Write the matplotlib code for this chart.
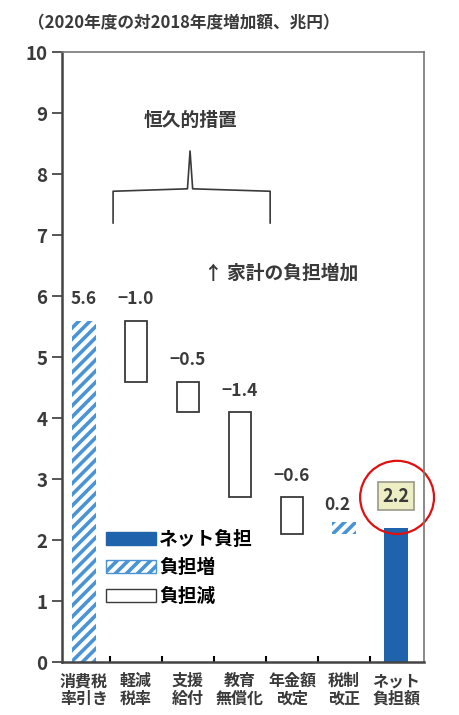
import matplotlib
matplotlib.use('Agg')
import matplotlib.pyplot as plt
from matplotlib.patches import Patch, Ellipse
import numpy as np

plt.rcParams['font.family'] = ['Noto Sans CJK JP', 'DejaVu Sans']
plt.rcParams['font.weight'] = 'bold'
plt.rcParams['hatch.linewidth'] = 2.6

# ── data (trillion yen, FY2020 vs FY2018) ───────────────────
categories = ['消費税\n率引き', '軽減\n税率', '支援\n給付', '教育\n無償化',
              '年金額\n改定', '税制\n改正', 'ネット\n負担額']
steps = [5.6, -1.0, -0.5, -1.4, -0.6, 0.2]
step_labels = ['5.6', '−1.0', '−0.5', '−1.4', '−0.6', '0.2']
net = 2.2
net_label = '2.2'

BLUE = '#1f63ad'
HATCH = '#4a94d6'
INK = '#3a3a3a'

fig = plt.figure(figsize=(4.6, 7.15), dpi=100)
ax = fig.add_axes([0.135, 0.074, 0.787, 0.853])

x = np.arange(len(categories))
w = 0.47

# waterfall steps
tops = np.cumsum(steps)
bottoms = tops - np.array(steps)
for i, (s, lab) in enumerate(zip(steps, step_labels)):
    lo = min(bottoms[i], tops[i])
    hi = max(bottoms[i], tops[i])
    if s > 0:
        ax.bar(x[i], abs(s), w, bottom=lo, color='white', edgecolor=HATCH,
               hatch='///', linewidth=0)
    else:
        ax.bar(x[i], abs(s), w * 0.88, bottom=lo, color='white',
               edgecolor=INK, linewidth=1.3)
    if i == len(steps) - 1:
        ax.text(x[i] - 0.12, hi + 0.12, lab, ha='center', va='bottom',
                fontsize=12.5, color=INK)
    else:
        ax.text(x[i], hi + 0.2, lab, ha='center', va='bottom',
                fontsize=12.5, color=INK)

# net burden bar
ax.bar(x[-1], net, w, color=BLUE, edgecolor=BLUE, linewidth=0)
ax.text(x[-1], net + 0.52, net_label, ha='center', va='center',
        fontsize=13, color=INK,
        bbox=dict(boxstyle='square,pad=0.25', facecolor='#eeeec4',
                  edgecolor='#999988', linewidth=1.2))
ax.add_patch(Ellipse((x[-1] + 0.02, net + 0.5), 1.42, 1.2, fill=False,
                     edgecolor='#e01010', linewidth=1.6, clip_on=False))

# bracket for permanent measures
bx0, bxm, bx1 = 0.56, 2.04, 3.58
ax.plot([bx0, bx0, bxm - 0.05, bxm, bxm + 0.05, bx1, bx1],
        [7.2, 7.72, 7.76, 8.38, 7.76, 7.72, 7.2],
        color=INK, linewidth=1.2)
ax.text(bxm, 8.88, '恒久的措置', ha='center', va='center', fontsize=13.5,
        color=INK)
ax.text(2.3, 6.38, '↑ 家計の負担増加', ha='left', va='center', fontsize=13.5,
        color=INK)

# legend
handles = [Patch(facecolor=BLUE, edgecolor=BLUE, label='ネット負担'),
           Patch(facecolor='white', edgecolor=HATCH, hatch='///',
                 label='負担増'),
           Patch(facecolor='white', edgecolor=INK, label='負担減')]
ax.legend(handles=handles, loc='lower left', bbox_to_anchor=(0.1, 0.08),
          frameon=False, fontsize=13.5, handlelength=2.7, handleheight=0.7,
          handletextpad=0.15, labelspacing=0.5, borderaxespad=0)

# axes styling
ax.set_xlim(-0.42, 6.54)
ax.set_ylim(0, 10)
ax.set_yticks(range(0, 11))
ax.tick_params(axis='y', direction='out', length=7, width=1.2,
               labelsize=13.5, colors=INK)
ax.set_xticks(x)
ax.set_xticklabels(categories, fontsize=11.5, color=INK, linespacing=1.1)
ax.tick_params(axis='x', length=0, pad=8)
ax.set_xticks(x[:-1] + 0.5, minor=True)
ax.tick_params(axis='x', which='minor', direction='in', length=4, width=1.5)
for side in ['left', 'bottom']:
    ax.spines[side].set_color('#444444')
    ax.spines[side].set_linewidth(1.8)
for side in ['top', 'right']:
    ax.spines[side].set_color('#777777')
    ax.spines[side].set_linewidth(1.2)

fig.text(0.06, 0.968, '（2020年度の対2018年度増加額、兆円）', ha='left',
         va='center', fontsize=12, color=INK)

fig.savefig('out.png', dpi=100)
